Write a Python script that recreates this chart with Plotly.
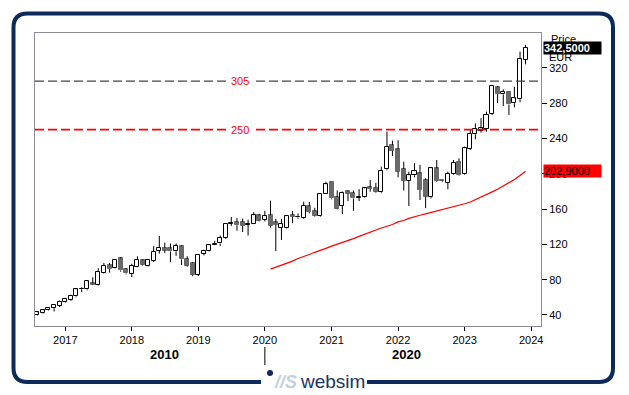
import plotly.graph_objects as go
import pandas as pd

# ---------------- data ----------------
months = pd.date_range("2016-08-01", "2023-12-01", freq="MS").strftime("%Y-%m-%d").tolist()

open_ = [39.5, 42.5, 45.5, 47.5, 50.5, 54.5, 57, 61, 69, 69, 76, 74, 88, 97, 93, 104, 92, 86.5, 94.5, 102,
         96, 101.5, 113, 116, 115.5, 112, 118, 103.5, 99, 85.5, 109.5, 113, 119, 121, 127, 143.5, 145.5, 145.4, 142, 143.5,
         153, 148, 153, 145, 138.6, 139, 153.3, 150.5, 150, 163.5, 158, 152.2, 177.5, 190.7, 173.7, 164, 180, 178.6, 172.5, 173.5,
         184.7, 184.3, 179, 205, 232.6, 227.8, 205.4, 192.2, 198.3, 200.5, 193, 173.4, 206, 192.5, 189.6, 199.8, 213.7, 199.8, 228, 244.7,
         248.8, 250.4, 267.8, 298, 290, 293, 280, 284.4, 329]
high = [44, 46.5, 49, 52, 56.5, 59.5, 63, 70, 71.5, 78.5, 82.7, 93, 99, 99, 103.5, 105.5, 93, 98, 106.5, 103,
        103, 118, 129.5, 122, 121, 121, 119, 106.5, 100, 109, 114, 119.5, 124, 130, 144, 151, 150, 149.2, 148, 156.5,
        154.5, 158, 169.5, 149, 149, 153, 158, 155, 168.4, 168, 161.5, 178, 191, 191, 181, 180, 181, 181, 182.5, 185,
        193, 189.7, 208, 247.7, 237.6, 238, 213.7, 202.4, 212, 210, 195, 207, 215.6, 193, 202.4, 215.6, 217.5, 230.7, 250.4, 257,
        263, 270.4, 300, 299.5, 295.7, 293.5, 298.7, 338.4, 346]
low = [39, 41.5, 45, 44, 49, 54, 56, 60, 66, 68, 74, 73.5, 87, 88, 92.5, 89, 86, 83, 94, 96,
       95, 100, 109.5, 110, 100, 107, 96.6, 94.7, 84, 84, 107.5, 112, 119, 118, 126, 141, 135.5, 134, 130, 143,
       146, 146, 139, 112.5, 125, 138, 144, 149, 149, 155, 151.5, 151.5, 177, 171, 159.8, 154.4, 169, 158, 169, 173,
       179.7, 178.6, 178, 204, 220, 196, 181, 163.5, 196, 170.3, 161, 172, 191, 190.5, 182.4, 199, 198, 199, 227, 239,
       246.6, 247.7, 266.6, 280, 276.8, 266.6, 275.3, 281, 324]
close = [43, 45.3, 48, 51.3, 54.7, 58, 62, 69, 69.5, 78, 74.5, 88.7, 96, 92, 102.7, 90.5, 87, 95.5, 102.7, 97,
         102.3, 111.4, 116, 113, 112, 118, 103, 96, 85.5, 108, 112.5, 119, 120, 127, 143, 144.5, 141.7, 141, 143.5, 153,
         147, 152, 141, 142, 143, 152, 151.4, 151, 163.5, 156.5, 152.5, 177, 188, 172, 160.5, 178, 177.5, 172, 173.7, 183.5,
         182.8, 179.8, 203.5, 230.7, 226, 202.5, 192, 198.3, 203, 181.6, 174, 206.2, 192, 191.5, 199.8, 212.6, 198.6, 229, 245, 250.4,
         251.5, 266.6, 299.5, 290.4, 293, 278.5, 285.5, 329.8, 342.5]

ma_months = pd.date_range("2020-02-01", "2023-12-01", freq="MS").strftime("%Y-%m-%d").tolist()
ma_values = [92, 94, 96.5, 98.5, 101, 104, 106, 108.5, 111, 113, 115.5, 118, 120, 122, 124.5, 126.5, 129, 131.5, 134, 136,
             138.5, 140.5, 142.5, 145.5, 147, 149.5, 151.5, 153, 154.5, 156, 157.5, 159.5, 161, 162.5, 164, 166, 168, 170.5,
             173.5, 176.5, 179.5, 182.5, 186, 189.5, 193.5, 198, 202.9]

levels = [305, 250]
level_colors = ["#444444", "#ff0000"]
level_widths = [1.4, 1.8]
year_ticks = ["2017-01-01", "2018-01-01", "2019-01-01", "2020-01-01", "2021-01-01", "2022-01-01", "2023-01-01", "2024-01-01"]
year_labels = ["2017", "2018", "2019", "2020", "2021", "2022", "2023", "2024"]
y_ticks = [40, 80, 120, 160, 200, 240, 280, 320]
decades = [("2010", "2018-07-01"), ("2020", "2022-02-15")]
decade_split = "2020-01-01"

# ---------------- figure geometry ----------------
PAGE = 8                     # default body margin of the html page
VW, VH = 629, 395            # browser window
W, H = VW - PAGE, VH - PAGE
L, R, T, B = 35, 541, 33, 326  # plot area in window pixels


def px(x):
    return (x - L) / (R - L)


def py(y):
    return (B - y) / (B - T)


FONT = "Liberation Sans, Arial, sans-serif"
GRAY = "#6a6a6a"

fig = go.Figure()

# wicks (split at body so the hollow bodies stay white)
wx, wy = [], []
for m, o, h, l, c in zip(months, open_, high, low, close):
    top, bot = max(o, c), min(o, c)
    wx += [m, m, None, m, m, None]
    wy += [top, h, None, bot, l, None]
fig.add_trace(go.Scatter(x=wx, y=wy, mode="lines", line=dict(color="#000000", width=1),
                         hoverinfo="skip", showlegend=False))

bar_w = 22 * 24 * 3600 * 1000
up = [(m, o, c) for m, o, c in zip(months, open_, close) if c >= o]
dn = [(m, o, c) for m, o, c in zip(months, open_, close) if c < o]
fig.add_trace(go.Bar(x=[u[0] for u in up], y=[u[2] - u[1] for u in up], base=[u[1] for u in up],
                     width=bar_w, marker=dict(color="#ffffff", line=dict(color="#000000", width=1)),
                     showlegend=False))
fig.add_trace(go.Bar(x=[d[0] for d in dn], y=[d[1] - d[2] for d in dn], base=[d[2] for d in dn],
                     width=bar_w, marker=dict(color=GRAY, line=dict(color=GRAY, width=1)),
                     showlegend=False))

fig.add_trace(go.Scatter(x=ma_months, y=ma_values, mode="lines", line=dict(color="#ff0000", width=1.2),
                         showlegend=False))

shapes = []
annotations = []
for lv, col, lw in zip(levels, level_colors, level_widths):
    shapes.append(dict(type="line", xref="paper", x0=0, x1=1, yref="y", y0=lv, y1=lv,
                       line=dict(color=col, width=lw, dash="9px,4px")))
    annotations.append(dict(xref="paper", x=px(240), yref="y", y=lv, text=str(lv), showarrow=False,
                            font=dict(family=FONT, size=11, color="#ff0000"), bgcolor="#ffffff",
                            xanchor="center", yanchor="middle", borderpad=3))

# decade labels and separator
for txt, xd in decades:
    annotations.append(dict(xref="x", x=xd, yref="paper", y=py(354), text="<b>%s</b>" % txt, showarrow=False,
                            font=dict(family=FONT, size=13, color="#000000"), xanchor="center", yanchor="middle"))
shapes.append(dict(type="line", xref="x", x0=decade_split, x1=decade_split, yref="paper",
                   y0=py(347), y1=py(365), line=dict(color="#000000", width=1)))

# right labels
annotations.append(dict(xref="paper", x=px(549), yref="paper", y=py(39), text="Price", showarrow=False,
                        font=dict(family=FONT, size=11, color="#000000"), xanchor="left", yanchor="middle"))
annotations.append(dict(xref="paper", x=px(547), yref="paper", y=py(57), text="EUR", showarrow=False,
                        font=dict(family=FONT, size=11, color="#000000"), xanchor="left", yanchor="middle"))
last_txt = ("%.4f" % close[-1]).replace(".", ",")
ma_txt = ("%.4f" % ma_values[-1]).replace(".", ",")
annotations.append(dict(xref="paper", x=px(543), yref="y", y=close[-1], text="<b>%s</b>" % last_txt,
                        showarrow=False, font=dict(family=FONT, size=11, color="#ffffff"), bgcolor="#000000",
                        xanchor="left", yanchor="middle", width=57, align="left", borderpad=0))
annotations.append(dict(xref="paper", x=px(543), yref="y", y=ma_values[-1], text=ma_txt,
                        showarrow=False, font=dict(family=FONT, size=11, color="#000000"), bgcolor="#ff0000",
                        xanchor="left", yanchor="middle", width=57, align="left", borderpad=0))

# outer rounded frame with gap for logo
fl, fr, ft, fb, rad = 13.5, 613, 13.5, 382, 14
gap_l, gap_r = 261, 367
pts = "M {a},{b} L {c},{b} Q {d},{b} {d},{e} L {d},{f} Q {d},{g} {c},{g} L {h},{g} Q {i},{g} {i},{f} L {i},{e} Q {i},{b} {h},{b} L {j},{b}"
path = pts.format(a=px(gap_l), b=py(fb), c=px(fl + rad), d=px(fl), e=py(fb - rad), f=py(ft + rad), g=py(ft),
                  h=px(fr - rad), i=px(fr), j=px(gap_r))
shapes.append(dict(type="path", xref="paper", yref="paper", path=path,
                   line=dict(color="#0d2b5a", width=4)))

# logo
shapes.append(dict(type="circle", xref="paper", yref="paper", x0=px(267), x1=px(273), y0=py(376), y1=py(370),
                   fillcolor="#0d2b5a", line=dict(width=0)))
annotations.append(dict(xref="paper", x=px(285), yref="paper", y=py(382), text="<b><i>//S</i></b>", showarrow=False,
                        font=dict(family=FONT, size=18, color="#c6d1de"), xanchor="center", yanchor="middle"))
annotations.append(dict(xref="paper", x=px(332), yref="paper", y=py(381), text="websim", showarrow=False,
                        font=dict(family=FONT, size=19, color="#1b3461"), xanchor="center", yanchor="middle"))

fig.update_layout(
    width=W, height=H,
    margin=dict(l=L - PAGE, r=VW - R, t=T - PAGE, b=VH - B),
    paper_bgcolor="#ffffff", plot_bgcolor="#ffffff",
    barmode="overlay", bargap=0,
    showlegend=False,
    shapes=shapes, annotations=annotations,
    font=dict(family=FONT, size=11, color="#000000"),
    xaxis=dict(type="date", range=["2016-07-19", "2024-02-24"], tickvals=year_ticks, ticktext=year_labels,
               ticks="outside", ticklen=4, tickcolor="#000000", showgrid=False, zeroline=False,
               showline=True, linecolor="#8c8c98", linewidth=1, mirror=True,
               tickfont=dict(family=FONT, size=11, color="#000000")),
    yaxis=dict(side="right", range=[27.5, 359.5], tickvals=y_ticks, ticks="outside", ticklen=5,
               tickcolor="#000000", showgrid=False, zeroline=False, showline=True, linecolor="#8c8c98",
               linewidth=1, mirror=True, tickfont=dict(family=FONT, size=11, color="#000000")),
)

fig.write_html("out.html")
